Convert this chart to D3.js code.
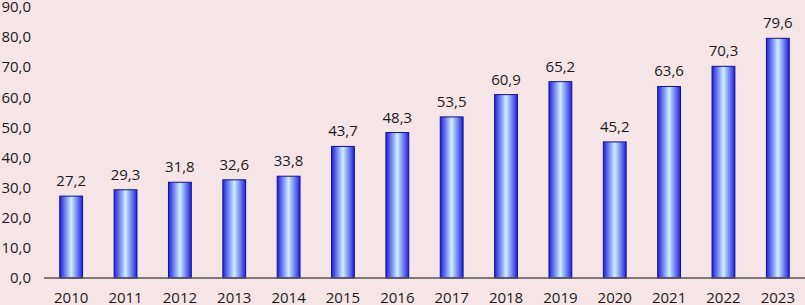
<!DOCTYPE html>
<html>
<head>
<meta charset="utf-8">
<script src="https://cdn.jsdelivr.net/npm/d3@7"></script>
<style>
  body { margin: 0; background: #f6e5e7; }
  svg { display: block; }
  text { font-family: "Open Sans", "Noto Sans", sans-serif; fill: #1a1a1a; }
</style>
</head>
<body>
<svg id="chart"></svg>
<script>
const years = ["2010", "2011", "2012", "2013", "2014", "2015", "2016", "2017", "2018", "2019", "2020", "2021", "2022", "2023"];
const values = [27.2, 29.3, 31.8, 32.6, 33.8, 43.7, 48.3, 53.5, 60.9, 65.2, 45.2, 63.6, 70.3, 79.6];
const yTicks = [0, 10, 20, 30, 40, 50, 60, 70, 80, 90];

const width = 805, height = 305;
const svg = d3.select("#chart").attr("width", width).attr("height", height);

const fmt = v => d3.format(".1f")(v).replace(".", ",");

const x = d3.scaleBand().domain(years).range([44, 805]).paddingInner(0.58).paddingOuter(0.29);
const y = d3.scaleLinear().domain([0, 90]).range([278, 7]);

// horizontal gradient, dark edges, light centre
const grad = svg.append("defs").append("linearGradient")
    .attr("id", "barGrad").attr("x1", "0%").attr("x2", "100%").attr("y1", "0%").attr("y2", "0%");
grad.append("stop").attr("offset", "0%").attr("stop-color", "#1e1ee0");
grad.append("stop").attr("offset", "50%").attr("stop-color", "#cdefff");
grad.append("stop").attr("offset", "100%").attr("stop-color", "#1e1ee0");

// y labels
svg.append("g").selectAll("text")
    .data(yTicks)
    .enter().append("text")
    .attr("x", 31)
    .attr("y", d => y(d))
    .attr("dy", "0.35em")
    .attr("text-anchor", "end")
    .style("font-size", "15px")
    .text(d => fmt(d));

// bars
svg.append("g").selectAll("rect")
    .data(values)
    .enter().append("rect")
    .attr("x", (d, i) => x(years[i]))
    .attr("y", d => y(d))
    .attr("width", x.bandwidth())
    .attr("height", d => y(0) - y(d))
    .attr("fill", "url(#barGrad)")
    .attr("stroke", "#12128a")
    .attr("stroke-width", 1);

// value labels
svg.append("g").selectAll("text")
    .data(values)
    .enter().append("text")
    .attr("x", (d, i) => x(years[i]) + x.bandwidth() / 2)
    .attr("y", d => y(d) - 10)
    .attr("text-anchor", "middle")
    .style("font-size", "15px")
    .text(d => fmt(d));

// x axis line
svg.append("line")
    .attr("x1", 44).attr("x2", 805)
    .attr("y1", y(0)).attr("y2", y(0))
    .style("stroke", "#555")
    .style("stroke-width", 1.5);

// x labels
svg.append("g").selectAll("text")
    .data(years)
    .enter().append("text")
    .attr("x", d => x(d) + x.bandwidth() / 2)
    .attr("y", 298)
    .attr("dy", "0.35em")
    .attr("text-anchor", "middle")
    .style("font-size", "15px")
    .text(d => d);
</script>
</body>
</html>
